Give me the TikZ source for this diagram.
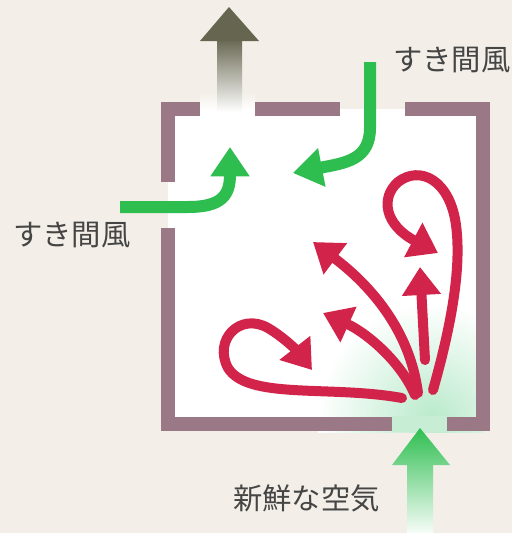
\documentclass[tikz,border=0pt]{standalone}
\usepackage{fontspec}
\newfontfamily\jpfont{Noto Sans CJK JP}
\usetikzlibrary{arrows.meta}
\definecolor{paper}{HTML}{F3EFE8}
\definecolor{wall}{HTML}{9A7886}
\definecolor{draft}{HTML}{2EBE50}
\definecolor{swirl}{HTML}{D2244B}
\definecolor{exhaust}{HTML}{66654F}
\definecolor{mint}{HTML}{B9EACB}
\definecolor{labelgray}{HTML}{454545}

\tikzset{
  wallline/.style={wall, line width=11pt, line join=miter},
  draftarrow/.style={draft, line width=9pt, -{Triangle[length=22pt,width=28pt]}},
  swirlarrow/.style={swirl, line width=7.5pt, line cap=round, -{Triangle[length=21pt,width=28pt]}},
  label/.style={font=\jpfont\fontsize{22}{26}\selectfont, text=labelgray, inner sep=0pt}
}

\begin{document}
\begin{tikzpicture}[x=0.75pt,y=-0.75pt]
\fill[paper] (0,0) rectangle (512,533);
\useasboundingbox (0,0) rectangle (512,533);

% room and the fresh air glow in its corner
\fill[white] (168,109) rectangle (483,424);
\shade[top color=paper, bottom color=white] (200,92) rectangle (255,110);
\begin{scope}
  \clip (168,109) rectangle (483,432);
  \shade[inner color=mint, outer color=white] (432,418) circle (115);
\end{scope}
\fill[mint!80] (392,416) rectangle (447,432);

% walls with the gaps
\draw[wallline] (200,109) -- (168,109) -- (168,182);
\draw[wallline] (255,109) -- (340,109);
\draw[wallline] (405,109) -- (483,109) -- (483,424) -- (447,424);
\draw[wallline] (392,424) -- (168,424) -- (168,228);

% exhaust going out on top
\shade[top color=exhaust, middle color=exhaust!75, bottom color=white] (217,38) rectangle (242,112);
\fill[exhaust] (200,41) -- (229,7) -- (259,41) -- cycle;

% fresh air coming in below
\shade[top color=draft, bottom color=draft!4]
  (420,428) -- (450,465) -- (433,465) -- (433,533) -- (407,533) -- (407,465) -- (392,465) -- cycle;

% drafts through the gaps
\coordinate (rgap) at (370,62);
\coordinate (rtip) at (293,173);
\coordinate (lgap) at (120,207);
\coordinate (ltip) at (230,147);
\draw[draftarrow] (rgap) -- (370,128) .. controls (370,160) and (345,163) .. (rtip);
\draw[draftarrow] (lgap) -- (188,207) .. controls (222,207) and (230,195) .. (ltip);

% air swirling from the vent
\coordinate (vent) at (415,395);
\draw[swirlarrow] (402,398) .. controls (330,385) and (248,400) .. (228,368)
  .. controls (213,340) and (240,312) .. (268,328) .. controls (285,338) and (298,352) .. (312,370);
\draw[swirlarrow] (vent) .. controls (400,360) and (365,332) .. (323,313);
\draw[swirlarrow] (418,393) .. controls (410,330) and (370,285) .. (313,242);
\draw[swirlarrow] (425,360) -- (420,267);
\draw[swirlarrow] (433,390) .. controls (450,330) and (462,270) .. (456,225)
  .. controls (450,180) and (420,165) .. (398,182) .. controls (380,198) and (385,225) .. (438,253);

\node[label, anchor=west] (draftR) at (393,60) {すき間風};
\node[label, anchor=west] (draftL) at (13,235) {すき間風};
\node[label, anchor=west] (fresh) at (233,498) {新鮮な空気};
\end{tikzpicture}
\end{document}
